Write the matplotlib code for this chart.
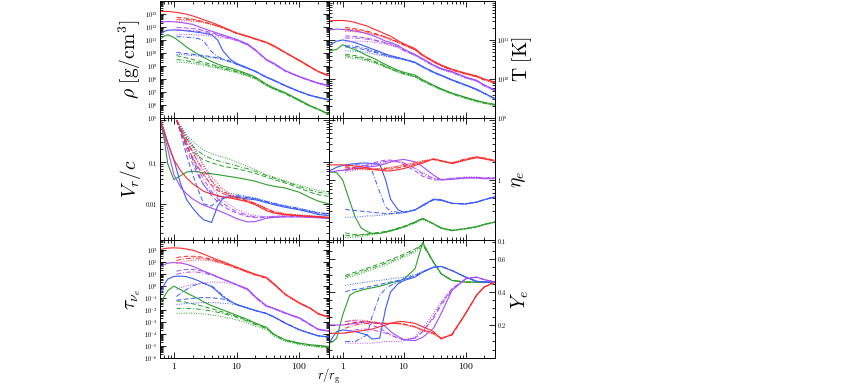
import numpy as np
import matplotlib
matplotlib.use('Agg')
import matplotlib.pyplot as plt
from matplotlib.ticker import LogLocator, FixedLocator, FuncFormatter, NullFormatter, MultipleLocator

plt.rcParams['mathtext.fontset'] = 'cm'
plt.rcParams['font.family'] = 'serif'

# radius grids (r / r_g)
r_solid = [0.6, 0.7, 0.8, 1, 1.3, 1.6, 2, 2.5, 3, 4, 5, 6, 8, 10, 15, 20, 30, 40, 60, 100, 150, 200, 300]
r_other = [1.1, 1.3, 1.6, 2, 2.5, 3, 4, 5, 6, 8, 10, 15, 20, 30, 40, 60, 100, 150, 200, 300]

# each list: [solid, dashed, dash-dot, dotted]; log10 values for log panels
rho_red = [[13.2, 13.2, 13.2, 13.15, 13.07, 12.98, 12.85, 12.7, 12.55, 12.35, 12.17, 12.0, 11.75, 11.55, 11.3, 11.1, 10.83, 10.55, 10.05, 9.45, 8.95, 8.6, 8.27],
           [12.75, 12.72, 12.68, 12.6, 12.5, 12.4, 12.22, 12.08, 11.95, 11.72, 11.52, 11.28, 11.08, 10.8, 10.52, 10.03, 9.43, 8.93, 8.58, 8.25],
           [12.6, 12.6, 12.58, 12.52, 12.45, 12.37, 12.22, 12.07, 11.94, 11.71, 11.5, 11.27, 11.07, 10.8, 10.5, 10.02, 9.42, 8.92, 8.57, 8.24],
           [12.45, 12.47, 12.47, 12.45, 12.4, 12.33, 12.18, 12.05, 11.92, 11.7, 11.5, 11.26, 11.06, 10.78, 10.5, 10.0, 9.4, 8.9, 8.56, 8.23]]
rho_purple = [[12.35, 12.4, 12.42, 12.4, 12.35, 12.28, 12.2, 12.02, 11.88, 11.68, 11.52, 11.4, 11.2, 11.05, 10.7, 10.25, 9.5, 9.2, 8.65, 8.2, 7.9, 7.7, 7.5],
              [11.95, 11.95, 11.92, 11.88, 11.8, 11.72, 11.56, 11.43, 11.32, 11.14, 11.0, 10.65, 10.22, 9.47, 9.15, 8.62, 8.18, 7.88, 7.68, 7.48],
              [11.75, 11.76, 11.75, 11.72, 11.66, 11.6, 11.48, 11.37, 11.27, 11.1, 10.97, 10.62, 10.2, 9.46, 9.13, 8.6, 8.16, 7.86, 7.66, 7.46],
              [11.4, 11.42, 11.42, 11.4, 11.38, 11.35, 11.3, 11.24, 11.18, 11.08, 10.98, 10.6, 10.18, 9.45, 9.12, 8.6, 8.15, 7.85, 7.65, 7.45]]
rho_blue = [[11.45, 11.65, 11.75, 11.78, 11.75, 11.7, 11.65, 11.58, 11.52, 11.4, 11.0, 10.2, 9.5, 9.2, 8.85, 8.6, 8.15, 7.9, 7.5, 7.05, 6.75, 6.6, 6.4],
            [10.05, 10.0, 9.95, 9.9, 9.85, 9.8, 9.72, 9.62, 9.52, 9.32, 9.14, 8.82, 8.58, 8.13, 7.88, 7.48, 7.03, 6.73, 6.58, 6.38],
            [11.25, 11.25, 11.22, 11.18, 11.1, 10.9, 10.1, 9.72, 9.56, 9.36, 9.16, 8.83, 8.58, 8.13, 7.88, 7.48, 7.03, 6.73, 6.58, 6.38],
            [9.9, 9.88, 9.85, 9.8, 9.76, 9.72, 9.65, 9.57, 9.48, 9.3, 9.12, 8.8, 8.56, 8.12, 7.87, 7.47, 7.02, 6.72, 6.57, 6.37]]
rho_green = [[11.05, 11.3, 11.4, 11.2, 10.8, 10.45, 10.15, 9.85, 9.65, 9.35, 9.15, 9.0, 8.85, 8.7, 8.4, 8.15, 7.6, 7.3, 6.95, 6.4, 5.95, 5.7, 5.3],
             [9.8, 9.72, 9.62, 9.5, 9.38, 9.28, 9.12, 8.98, 8.88, 8.72, 8.6, 8.32, 8.08, 7.55, 7.25, 6.9, 6.35, 5.92, 5.68, 5.28],
             [9.5, 9.45, 9.4, 9.32, 9.24, 9.15, 9.0, 8.9, 8.8, 8.65, 8.55, 8.28, 8.04, 7.52, 7.22, 6.88, 6.33, 5.9, 5.66, 5.27],
             [9.3, 9.28, 9.25, 9.2, 9.12, 9.05, 8.92, 8.82, 8.72, 8.58, 8.48, 8.22, 8.0, 7.5, 7.2, 6.86, 6.32, 5.89, 5.65, 5.26]]

T_red = [[11.48, 11.5, 11.5, 11.5, 11.48, 11.45, 11.4, 11.36, 11.3, 11.22, 11.15, 11.1, 10.98, 10.9, 10.78, 10.62, 10.46, 10.36, 10.25, 10.15, 10.08, 10.0, 9.92],
         [11.32, 11.31, 11.29, 11.26, 11.23, 11.19, 11.13, 11.08, 11.03, 10.95, 10.88, 10.76, 10.61, 10.45, 10.35, 10.24, 10.14, 10.07, 9.99, 9.91],
         [11.28, 11.27, 11.26, 11.24, 11.21, 11.17, 11.12, 11.07, 11.02, 10.94, 10.87, 10.75, 10.6, 10.44, 10.34, 10.23, 10.13, 10.06, 9.98, 9.9],
         [11.22, 11.22, 11.21, 11.2, 11.18, 11.15, 11.1, 11.05, 11.0, 10.93, 10.86, 10.74, 10.59, 10.43, 10.33, 10.22, 10.12, 10.05, 9.97, 9.89]]
T_purple = [[11.25, 11.27, 11.28, 11.27, 11.25, 11.23, 11.2, 11.16, 11.12, 11.04, 10.97, 10.94, 10.86, 10.76, 10.63, 10.52, 10.36, 10.27, 10.19, 10.05, 9.97, 9.85, 9.72],
            [11.1, 11.1, 11.09, 11.07, 11.05, 11.02, 10.97, 10.93, 10.9, 10.83, 10.74, 10.62, 10.51, 10.35, 10.26, 10.18, 10.04, 9.96, 9.84, 9.71],
            [11.05, 11.05, 11.05, 11.04, 11.02, 11.0, 10.96, 10.92, 10.88, 10.82, 10.73, 10.61, 10.5, 10.34, 10.25, 10.17, 10.03, 9.95, 9.83, 9.7],
            [10.95, 10.96, 10.97, 10.97, 10.96, 10.95, 10.92, 10.89, 10.86, 10.8, 10.72, 10.6, 10.49, 10.33, 10.24, 10.16, 10.02, 9.94, 9.82, 9.69]]
T_blue = [[10.85, 10.92, 10.97, 11.0, 10.97, 10.93, 10.88, 10.82, 10.77, 10.7, 10.64, 10.6, 10.55, 10.51, 10.43, 10.32, 10.18, 10.1, 9.98, 9.85, 9.74, 9.64, 9.5],
          [10.82, 10.82, 10.8, 10.77, 10.73, 10.7, 10.65, 10.6, 10.57, 10.53, 10.5, 10.42, 10.31, 10.17, 10.09, 9.97, 9.84, 9.73, 9.63, 9.49],
          [10.85, 10.85, 10.84, 10.81, 10.77, 10.73, 10.67, 10.62, 10.58, 10.54, 10.5, 10.42, 10.31, 10.17, 10.09, 9.97, 9.84, 9.73, 9.63, 9.49],
          [10.72, 10.72, 10.71, 10.7, 10.68, 10.65, 10.61, 10.58, 10.55, 10.52, 10.49, 10.41, 10.3, 10.16, 10.08, 9.96, 9.83, 9.72, 9.62, 9.48]]
T_green = [[10.72, 10.74, 10.76, 10.88, 10.8, 10.75, 10.68, 10.6, 10.55, 10.45, 10.37, 10.31, 10.22, 10.17, 10.1, 9.98, 9.84, 9.75, 9.64, 9.53, 9.45, 9.4, 9.35],
           [10.64, 10.62, 10.6, 10.56, 10.52, 10.48, 10.4, 10.33, 10.27, 10.19, 10.14, 10.07, 9.96, 9.83, 9.74, 9.63, 9.52, 9.44, 9.39, 9.34],
           [10.6, 10.58, 10.56, 10.53, 10.49, 10.45, 10.38, 10.31, 10.26, 10.18, 10.13, 10.06, 9.95, 9.82, 9.73, 9.62, 9.51, 9.43, 9.38, 9.33],
           [10.55, 10.54, 10.52, 10.5, 10.46, 10.43, 10.36, 10.3, 10.25, 10.17, 10.12, 10.05, 9.94, 9.81, 9.72, 9.61, 9.5, 9.42, 9.37, 9.32]]

vr_red = [[0.02, -0.3, -0.55, -0.95, -1.22, -1.38, -1.52, -1.62, -1.7, -1.76, -1.8, -1.83, -1.86, -1.89, -1.95, -2.02, -2.16, -2.22, -2.26, -2.28, -2.3, -2.31, -2.33],
          [0.0, -0.3, -0.62, -0.9, -1.15, -1.32, -1.55, -1.68, -1.75, -1.82, -1.87, -1.93, -2.0, -2.12, -2.2, -2.25, -2.28, -2.3, -2.31, -2.33],
          [0.0, -0.25, -0.52, -0.78, -1.02, -1.2, -1.45, -1.6, -1.7, -1.79, -1.85, -1.92, -1.99, -2.11, -2.19, -2.24, -2.27, -2.29, -2.3, -2.32],
          [0.0, -0.2, -0.42, -0.66, -0.9, -1.08, -1.35, -1.52, -1.64, -1.76, -1.83, -1.91, -1.98, -2.1, -2.18, -2.23, -2.26, -2.28, -2.29, -2.31]]
vr_purple = [[0.02, -0.35, -0.7, -1.3, -1.62, -1.76, -1.88, -1.97, -2.03, -2.1, -2.15, -2.2, -2.28, -2.35, -2.43, -2.42, -2.34, -2.32, -2.31, -2.31, -2.32, -2.33, -2.35],
             [0.0, -0.3, -0.7, -1.05, -1.35, -1.55, -1.8, -1.95, -2.05, -2.15, -2.22, -2.3, -2.33, -2.32, -2.31, -2.3, -2.3, -2.31, -2.32, -2.34],
             [0.0, -0.25, -0.58, -0.9, -1.2, -1.42, -1.7, -1.87, -1.98, -2.1, -2.18, -2.27, -2.31, -2.31, -2.3, -2.29, -2.29, -2.3, -2.31, -2.33],
             [0.0, -0.2, -0.45, -0.75, -1.05, -1.28, -1.58, -1.78, -1.9, -2.03, -2.12, -2.23, -2.28, -2.3, -2.29, -2.28, -2.28, -2.29, -2.3, -2.32]]
vr_blue = [[0.02, -0.25, -0.55, -0.95, -1.55, -1.9, -2.1, -2.27, -2.38, -2.44, -2.05, -1.87, -1.83, -1.84, -1.88, -1.9, -1.97, -2.02, -2.08, -2.14, -2.2, -2.25, -2.28],
           [0.0, -0.35, -0.85, -1.3, -1.7, -2.0, -2.05, -1.92, -1.85, -1.82, -1.82, -1.85, -1.88, -1.95, -2.0, -2.06, -2.12, -2.18, -2.22, -2.25],
           [0.0, -0.25, -0.6, -0.95, -1.3, -1.55, -1.75, -1.82, -1.82, -1.8, -1.8, -1.84, -1.87, -1.94, -1.99, -2.05, -2.11, -2.17, -2.21, -2.24],
           [0.0, -0.15, -0.38, -0.6, -0.85, -1.1, -1.45, -1.65, -1.72, -1.75, -1.77, -1.82, -1.86, -1.93, -1.98, -2.04, -2.1, -2.16, -2.2, -2.23]]
vr_green = [[0.02, -0.45, -1.05, -1.42, -1.32, -1.24, -1.22, -1.24, -1.26, -1.28, -1.3, -1.32, -1.35, -1.37, -1.42, -1.46, -1.54, -1.58, -1.62, -1.72, -1.85, -1.93, -2.0],
            [0.0, -0.25, -0.55, -0.75, -0.87, -0.95, -1.02, -1.06, -1.1, -1.13, -1.16, -1.22, -1.27, -1.36, -1.42, -1.5, -1.62, -1.72, -1.78, -1.82],
            [0.0, -0.2, -0.45, -0.62, -0.75, -0.84, -0.92, -0.97, -1.0, -1.05, -1.09, -1.16, -1.22, -1.32, -1.38, -1.47, -1.58, -1.67, -1.72, -1.76],
            [0.0, -0.15, -0.35, -0.5, -0.63, -0.72, -0.8, -0.85, -0.88, -0.94, -1.0, -1.1, -1.18, -1.3, -1.36, -1.45, -1.55, -1.63, -1.68, -1.72]]

eta_red = [[0.25, 0.25, 0.25, 0.25, 0.24, 0.23, 0.22, 0.2, 0.18, 0.16, 0.15, 0.15, 0.17, 0.19, 0.24, 0.28, 0.35, 0.32, 0.27, 0.33, 0.37, 0.35, 0.31],
           [0.22, 0.21, 0.2, 0.19, 0.18, 0.17, 0.17, 0.17, 0.18, 0.2, 0.22, 0.26, 0.3, 0.34, 0.31, 0.28, 0.34, 0.38, 0.36, 0.32],
           [0.2, 0.2, 0.19, 0.19, 0.18, 0.18, 0.18, 0.19, 0.2, 0.22, 0.24, 0.28, 0.31, 0.34, 0.31, 0.28, 0.35, 0.38, 0.36, 0.32],
           [0.17, 0.17, 0.17, 0.17, 0.17, 0.18, 0.19, 0.2, 0.21, 0.23, 0.25, 0.29, 0.32, 0.35, 0.32, 0.29, 0.35, 0.39, 0.37, 0.33]]
eta_purple = [[0.13, 0.14, 0.15, 0.16, 0.18, 0.19, 0.2, 0.21, 0.22, 0.24, 0.27, 0.3, 0.33, 0.34, 0.3, 0.22, 0.08, 0.0, 0.01, 0.03, 0.03, 0.02, 0.02],
              [0.17, 0.19, 0.21, 0.23, 0.26, 0.28, 0.31, 0.33, 0.33, 0.3, 0.25, 0.15, 0.06, 0.0, 0.0, 0.02, 0.04, 0.04, 0.03, 0.03],
              [0.15, 0.17, 0.19, 0.21, 0.24, 0.26, 0.29, 0.31, 0.32, 0.31, 0.28, 0.19, 0.1, 0.02, 0.0, 0.02, 0.04, 0.04, 0.03, 0.03],
              [0.12, 0.14, 0.16, 0.19, 0.22, 0.24, 0.27, 0.29, 0.3, 0.3, 0.28, 0.2, 0.12, 0.03, 0.01, 0.03, 0.05, 0.05, 0.04, 0.04]]
eta_blue = [[0.15, 0.18, 0.21, 0.24, 0.26, 0.27, 0.28, 0.28, 0.27, 0.26, 0.0, -0.32, -0.5, -0.54, -0.5, -0.42, -0.32, -0.33, -0.39, -0.4, -0.37, -0.33, -0.28],
            [-0.49, -0.5, -0.51, -0.52, -0.53, -0.54, -0.55, -0.56, -0.56, -0.55, -0.54, -0.5, -0.43, -0.33, -0.34, -0.39, -0.4, -0.37, -0.33, -0.28],
            [0.23, 0.24, 0.25, 0.25, 0.24, 0.15, -0.2, -0.45, -0.52, -0.54, -0.54, -0.5, -0.43, -0.33, -0.34, -0.39, -0.4, -0.37, -0.33, -0.28],
            [-0.62, -0.62, -0.62, -0.61, -0.6, -0.6, -0.59, -0.58, -0.57, -0.56, -0.55, -0.5, -0.43, -0.33, -0.34, -0.39, -0.4, -0.37, -0.33, -0.28]]
eta_green = [[0.13, 0.13, 0.12, 0.0, -0.35, -0.62, -0.8, -0.86, -0.89, -0.89, -0.87, -0.85, -0.81, -0.78, -0.7, -0.64, -0.73, -0.8, -0.84, -0.81, -0.78, -0.74, -0.7],
             [-0.88, -0.9, -0.91, -0.91, -0.9, -0.89, -0.87, -0.86, -0.84, -0.8, -0.77, -0.7, -0.64, -0.73, -0.8, -0.84, -0.81, -0.78, -0.74, -0.7],
             [-0.92, -0.93, -0.93, -0.92, -0.91, -0.9, -0.88, -0.86, -0.84, -0.81, -0.78, -0.71, -0.65, -0.73, -0.8, -0.84, -0.81, -0.78, -0.74, -0.7],
             [-0.96, -0.96, -0.95, -0.94, -0.93, -0.91, -0.89, -0.87, -0.85, -0.82, -0.79, -0.72, -0.66, -0.74, -0.81, -0.85, -0.82, -0.79, -0.75, -0.71]]

tau_red = [[3.0, 3.08, 3.13, 3.15, 3.12, 3.05, 2.95, 2.78, 2.62, 2.35, 2.15, 2.0, 1.75, 1.55, 1.2, 0.95, 0.7, 0.15, -0.7, -1.4, -1.85, -2.3, -2.6],
           [2.34, 2.4, 2.45, 2.45, 2.42, 2.35, 2.2, 2.05, 1.92, 1.7, 1.5, 1.15, 0.92, 0.65, 0.12, -0.72, -1.42, -1.87, -2.32, -2.62],
           [2.1, 2.18, 2.25, 2.3, 2.3, 2.26, 2.14, 2.0, 1.88, 1.67, 1.48, 1.13, 0.9, 0.63, 0.1, -0.74, -1.44, -1.88, -2.33, -2.63],
           [1.85, 1.95, 2.05, 2.12, 2.15, 2.13, 2.05, 1.94, 1.83, 1.63, 1.45, 1.1, 0.88, 0.6, 0.08, -0.76, -1.46, -1.9, -2.35, -2.65]]
tau_purple = [[1.52, 1.75, 1.88, 1.93, 1.88, 1.78, 1.62, 1.4, 1.22, 0.95, 0.72, 0.55, 0.3, 0.1, -0.25, -0.9, -1.65, -1.88, -2.25, -2.65, -3.2, -3.6, -3.75],
              [1.2, 1.3, 1.35, 1.35, 1.28, 1.18, 0.95, 0.75, 0.58, 0.32, 0.1, -0.3, -0.95, -1.68, -1.9, -2.27, -2.67, -3.22, -3.62, -3.77],
              [0.95, 1.05, 1.12, 1.15, 1.12, 1.05, 0.88, 0.7, 0.54, 0.3, 0.08, -0.32, -0.97, -1.7, -1.92, -2.29, -2.69, -3.24, -3.64, -3.79],
              [-0.3, -0.15, 0.0, 0.1, 0.2, 0.25, 0.3, 0.3, 0.28, 0.2, 0.05, -0.35, -1.0, -1.72, -1.94, -2.31, -2.71, -3.26, -3.66, -3.81]]
tau_blue = [[-0.85, 0.1, 0.55, 0.78, 0.8, 0.75, 0.6, 0.4, 0.2, -0.07, -0.5, -0.88, -1.3, -1.55, -1.85, -2.05, -2.3, -2.6, -3.1, -3.65, -3.95, -4.15, -4.25],
            [-1.2, -1.15, -1.1, -1.05, -1.0, -0.98, -1.0, -1.05, -1.1, -1.3, -1.55, -1.86, -2.06, -2.3, -2.6, -3.1, -3.64, -3.95, -4.15, -4.27],
            [-0.9, -0.6, -0.3, 0.0, 0.15, 0.2, 0.0, -0.4, -0.8, -1.28, -1.55, -1.86, -2.06, -2.3, -2.6, -3.1, -3.64, -3.95, -4.15, -4.27],
            [-1.55, -1.52, -1.48, -1.45, -1.42, -1.4, -1.4, -1.42, -1.45, -1.5, -1.6, -1.88, -2.08, -2.32, -2.62, -3.12, -3.66, -3.97, -4.17, -4.29]]
tau_green = [[-1.5, -0.9, -0.4, -0.03, -0.35, -0.6, -0.85, -1.1, -1.35, -1.65, -1.85, -2.0, -2.25, -2.45, -2.8, -3.1, -3.45, -4.05, -4.5, -4.75, -4.9, -4.95, -5.05],
             [-1.26, -1.3, -1.38, -1.5, -1.62, -1.72, -1.9, -2.05, -2.18, -2.38, -2.55, -2.88, -3.18, -3.5, -4.05, -4.5, -4.78, -4.92, -5.0, -5.08],
             [-1.9, -1.88, -1.88, -1.9, -1.95, -2.0, -2.1, -2.2, -2.3, -2.47, -2.62, -2.94, -3.22, -3.55, -4.1, -4.55, -4.82, -4.96, -5.04, -5.12],
             [-2.3, -2.28, -2.27, -2.28, -2.3, -2.34, -2.42, -2.5, -2.58, -2.7, -2.82, -3.1, -3.35, -3.65, -4.18, -4.62, -4.88, -5.02, -5.1, -5.18]]

ye_red = [[0.15, 0.15, 0.15, 0.15, 0.155, 0.16, 0.165, 0.17, 0.175, 0.19, 0.2, 0.21, 0.22, 0.22, 0.21, 0.19, 0.16, 0.115, 0.145, 0.27, 0.38, 0.43, 0.46],
          [0.2, 0.21, 0.215, 0.22, 0.22, 0.215, 0.21, 0.21, 0.21, 0.21, 0.205, 0.19, 0.17, 0.15, 0.12, 0.14, 0.27, 0.38, 0.43, 0.46],
          [0.18, 0.19, 0.2, 0.205, 0.21, 0.21, 0.21, 0.21, 0.21, 0.21, 0.205, 0.19, 0.17, 0.15, 0.12, 0.14, 0.27, 0.38, 0.43, 0.46],
          [0.22, 0.225, 0.23, 0.23, 0.225, 0.22, 0.215, 0.21, 0.21, 0.205, 0.2, 0.185, 0.165, 0.145, 0.12, 0.14, 0.27, 0.38, 0.43, 0.46]]
ye_purple = [[0.2, 0.2, 0.2, 0.2, 0.205, 0.21, 0.215, 0.22, 0.215, 0.21, 0.19, 0.16, 0.13, 0.11, 0.105, 0.125, 0.18, 0.27, 0.41, 0.48, 0.49, 0.475, 0.46],
             [0.22, 0.225, 0.225, 0.22, 0.21, 0.2, 0.18, 0.16, 0.14, 0.12, 0.11, 0.12, 0.16, 0.25, 0.33, 0.42, 0.48, 0.49, 0.475, 0.46],
             [0.15, 0.16, 0.17, 0.175, 0.175, 0.17, 0.16, 0.15, 0.14, 0.12, 0.11, 0.12, 0.16, 0.24, 0.32, 0.41, 0.48, 0.49, 0.475, 0.46],
             [0.09, 0.09, 0.09, 0.09, 0.09, 0.09, 0.095, 0.1, 0.1, 0.1, 0.105, 0.13, 0.18, 0.27, 0.34, 0.42, 0.48, 0.49, 0.475, 0.46]]
ye_blue = [[0.085, 0.13, 0.16, 0.17, 0.165, 0.16, 0.15, 0.14, 0.115, 0.12, 0.3, 0.4, 0.45, 0.47, 0.49, 0.52, 0.55, 0.555, 0.53, 0.49, 0.465, 0.46, 0.46],
           [0.4, 0.41, 0.415, 0.42, 0.43, 0.435, 0.445, 0.455, 0.46, 0.47, 0.48, 0.5, 0.52, 0.55, 0.555, 0.53, 0.49, 0.465, 0.46, 0.46],
           [0.1, 0.1, 0.1, 0.12, 0.14, 0.25, 0.38, 0.42, 0.44, 0.46, 0.475, 0.495, 0.52, 0.55, 0.555, 0.53, 0.49, 0.465, 0.46, 0.46],
           [0.44, 0.445, 0.45, 0.455, 0.46, 0.465, 0.47, 0.475, 0.48, 0.485, 0.49, 0.505, 0.525, 0.55, 0.555, 0.53, 0.49, 0.465, 0.46, 0.46]]
ye_green = [[0.09, 0.1, 0.12, 0.26, 0.38, 0.4, 0.41, 0.42, 0.425, 0.435, 0.445, 0.455, 0.465, 0.48, 0.54, 0.7, 0.58, 0.51, 0.47, 0.46, 0.46, 0.46, 0.46],
            [0.5, 0.51, 0.52, 0.53, 0.545, 0.555, 0.57, 0.585, 0.595, 0.615, 0.63, 0.66, 0.69, 0.58, 0.51, 0.47, 0.46, 0.46, 0.46, 0.46],
            [0.49, 0.5, 0.51, 0.52, 0.535, 0.545, 0.56, 0.575, 0.585, 0.605, 0.62, 0.65, 0.69, 0.58, 0.51, 0.47, 0.46, 0.46, 0.46, 0.46],
            [0.48, 0.49, 0.5, 0.51, 0.525, 0.535, 0.55, 0.565, 0.575, 0.595, 0.61, 0.64, 0.68, 0.58, 0.51, 0.47, 0.46, 0.46, 0.46, 0.46]]

colors = {'green': '#2ca02c', 'blue': '#3a5cff', 'purple': '#a64dff', 'red': '#ff2b2b'}
styles = ['-', (0, (5, 2.5)), (0, (5, 2, 1, 2)), (0, (1, 1.5))]


def pow10(v):
    return np.power(10.0, v)


def sci_fmt(v, pos):
    e = int(round(np.log10(v)))
    return r'$10^{%d}$' % e


def dec_fmt(v, pos):
    if v >= 1:
        return r'$%d$' % int(round(v))
    return r'$%g$' % v


fig = plt.figure(figsize=(8.54, 3.92), dpi=100)
W, H = 854.0, 392.0
xl, xr, xe = 160, 329, 495
rows = [(1, 118), (118, 240), (240, 358)]


def make_ax(col, row):
    x0 = xl if col == 0 else xr
    x1 = xr if col == 0 else xe
    y0, y1 = rows[row]
    return fig.add_axes([x0 / W, 1 - y1 / H, (x1 - x0) / W, (y1 - y0) / H])


# col, row, data, log y, y limits (log10 for log axes), label, label x
panels = [
    (0, 0, [rho_green, rho_blue, rho_purple, rho_red], True, (5, 14), r'$\rho\ [\mathrm{g/cm^3}]$', -0.1),
    (1, 0, [T_green, T_blue, T_purple, T_red], True, (9, 12), r'$\mathrm{T\ [K]}$', 1.09),
    (0, 1, [vr_green, vr_blue, vr_purple, vr_red], True, (-2.86, 0.05), r'$V_r/c$', -0.1),
    (1, 1, [eta_green, eta_blue, eta_purple, eta_red], True, (-1, 1.03), r'$\eta_e$', 1.09),
    (0, 2, [tau_green, tau_blue, tau_purple, tau_red], True, (-6, 3.8), r'$\tau_{\nu_e}$', -0.1),
    (1, 2, [ye_green, ye_blue, ye_purple, ye_red], False, (0.0, 0.715), r'$Y_e$', 1.09),
]
cnames = ['green', 'blue', 'purple', 'red']

for col, row, sets, logy, lim, lab, labx in panels:
    ax = make_ax(col, row)
    for cname, series in zip(cnames, sets):
        for k, vals in enumerate(series):
            xs = r_solid if k == 0 else r_other
            ys = pow10(vals) if logy else vals
            ax.plot(xs, ys, color=colors[cname], ls=styles[k], lw=0.8 if k == 0 else 0.7)
    ax.set_xscale('log')
    ax.set_xlim(0.6, 300)
    if logy:
        ax.set_yscale('log')
        ax.set_ylim(pow10(lim[0]), pow10(lim[1]))
    else:
        ax.set_ylim(*lim)

    ax.tick_params(which='both', direction='in', top=True, right=True, bottom=True, left=True,
                   labelsize=4.5, width=0.6, pad=1.5)
    ax.tick_params(which='major', length=4)
    ax.tick_params(which='minor', length=2)
    for sp in ax.spines.values():
        sp.set_linewidth(0.7)

    ax.xaxis.set_major_locator(FixedLocator([1, 10, 100]))
    ax.xaxis.set_minor_locator(LogLocator(base=10, subs=np.arange(2, 10), numticks=20))
    ax.xaxis.set_minor_formatter(NullFormatter())
    if row == 2:
        ax.xaxis.set_major_formatter(FuncFormatter(dec_fmt))
        ax.tick_params(axis='x', labelsize=7, pad=2.5)
    else:
        ax.xaxis.set_major_formatter(NullFormatter())

    if col == 1:
        ax.yaxis.tick_right()
        ax.tick_params(which='both', left=True, labelleft=False, labelright=True)
        ax.yaxis.set_label_position('right')

    if row == 0 and col == 0:
        ax.yaxis.set_major_locator(FixedLocator(pow10(np.arange(5, 14))))
        ax.yaxis.set_major_formatter(FuncFormatter(sci_fmt))
    elif row == 0:
        ax.yaxis.set_major_locator(FixedLocator([1e9, 1e10, 1e11]))
        ax.yaxis.set_major_formatter(FuncFormatter(sci_fmt))
    elif row == 1 and col == 0:
        ax.yaxis.set_major_locator(FixedLocator([0.01, 0.1, 1]))
        ax.yaxis.set_major_formatter(FuncFormatter(lambda v, p: '' if v >= 1 else dec_fmt(v, p)))
    elif row == 1:
        ax.yaxis.set_major_locator(FixedLocator([0.1, 1, 10]))
        ax.yaxis.set_major_formatter(FuncFormatter(lambda v, p: '' if v >= 10 else dec_fmt(v, p)))
    elif row == 2 and col == 0:
        ax.yaxis.set_major_locator(FixedLocator(pow10(np.arange(-6, 4))))
        ax.yaxis.set_major_formatter(FuncFormatter(sci_fmt))
    else:
        ax.yaxis.set_major_locator(FixedLocator([0.2, 0.4, 0.6]))
        ax.yaxis.set_minor_locator(MultipleLocator(0.05))
        ax.yaxis.set_major_formatter(FuncFormatter(lambda v, p: r'$%.1f$' % v))
    if logy:
        ax.yaxis.set_minor_locator(LogLocator(base=10, subs=np.arange(2, 10), numticks=30))
        ax.yaxis.set_minor_formatter(NullFormatter())

    ax.set_ylabel(lab, fontsize=14)
    ax.yaxis.set_label_coords(labx, 0.5)

fig.text(329 / W, 1 - 376 / H, r'$r/r_\mathrm{g}$', ha='center', va='center', fontsize=9)

fig.savefig('out.png', dpi=100)
